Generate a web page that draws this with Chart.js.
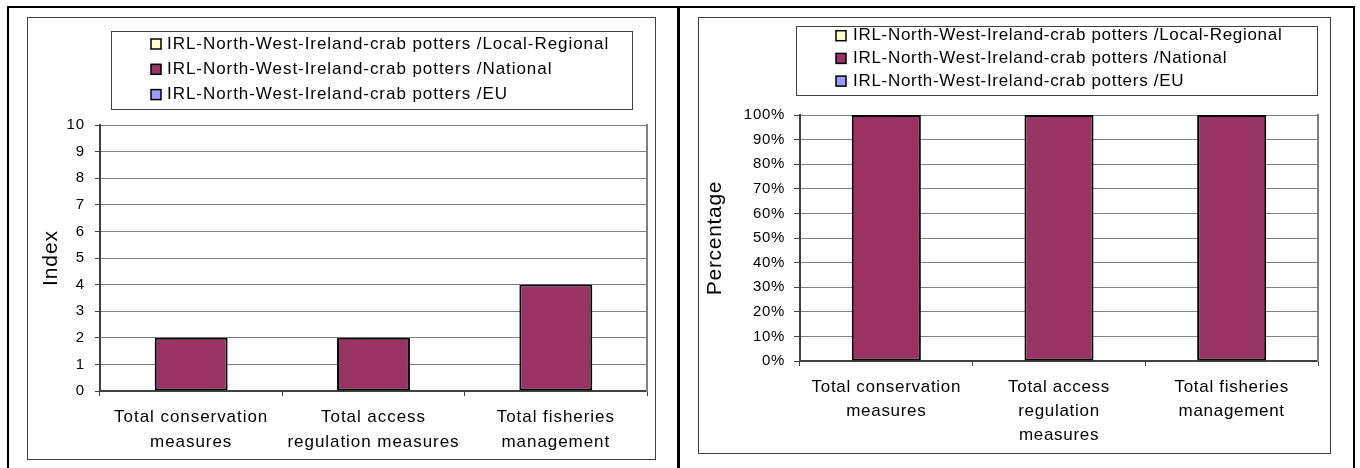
<!DOCTYPE html>
<html>
<head>
<meta charset="utf-8">
<script src="https://cdn.jsdelivr.net/npm/chart.js@4/dist/chart.umd.min.js"></script>
<style>
  body { margin: 0; width: 1360px; height: 468px; overflow: hidden; position: relative; background: #fff; }
  #frame { position: absolute; left: 7px; top: 6px; width: 1344px; height: 480px; border: 2px solid #000; border-bottom: none; }
  #divider { position: absolute; left: 677px; top: 6px; width: 3px; height: 480px; background: #000; }
  .box { position: absolute; border: 1px solid #404040; box-sizing: border-box; background: #fff; }
  #boxL { left: 27px; top: 17px; width: 629px; height: 443px; }
  #boxR { left: 698px; top: 17px; width: 633px; height: 437px; }
  canvas { position: absolute; left: 0; top: 0; }
</style>
</head>
<body>
<div id="frame"></div>
<div id="divider"></div>
<div class="box" id="boxL"><canvas id="indexChart" width="627" height="441"></canvas></div>
<div class="box" id="boxR"><canvas id="pctChart" width="631" height="435"></canvas></div>
<script>
// categories (line breaks as in the picture)
const categoriesIndex = [['Total conservation', 'measures'], ['Total access', 'regulation measures'], ['Total fisheries', 'management']];
const categoriesPct = [['Total conservation', 'measures'], ['Total access', 'regulation', 'measures'], ['Total fisheries', 'management']];

const seriesNames = [
  'IRL-North-West-Ireland-crab potters /Local-Regional',
  'IRL-North-West-Ireland-crab potters /National',
  'IRL-North-West-Ireland-crab potters /EU'
];
const seriesColors = ['#FFFFCC', '#993366', '#9999FF'];

// left chart: index
const indexLocal = [0, 0, 0];
const indexNational = [2, 2, 4];
const indexEU = [0, 0, 0];

// right chart: percentage
const pctLocal = [0, 0, 0];
const pctNational = [100, 100, 100];
const pctEU = [0, 0, 0];

Chart.defaults.font.family = '"Liberation Sans", Arial, sans-serif';
Chart.defaults.color = '#000';

// legend drawn in a framed box, like the Excel original
const boxLegend = {
  id: 'boxLegend',
  beforeDraw(chart, args, o) {
    chart.ctx.letterSpacing = o.spacing + 'px';
  },
  afterDraw(chart, args, o) {
    const ctx = chart.ctx;
    ctx.save();
    ctx.letterSpacing = o.spacing + 'px';
    ctx.strokeStyle = '#404040';
    ctx.lineWidth = 1;
    ctx.strokeRect(o.x + 0.5, o.y + 0.5, o.w, o.h);
    ctx.font = o.fontSize + 'px "Liberation Sans", Arial, sans-serif';
    ctx.textBaseline = 'middle';
    chart.data.datasets.forEach((ds, i) => {
      const cy = o.rowY + i * o.rowGap;
      ctx.fillStyle = ds.backgroundColor;
      ctx.fillRect(o.markX, cy - o.mark / 2, o.mark, o.mark);
      ctx.strokeStyle = '#000';
      ctx.lineWidth = 1.5;
      ctx.strokeRect(o.markX, cy - o.mark / 2, o.mark, o.mark);
      ctx.fillStyle = '#000';
      ctx.fillText(ds.label, o.textX, cy);
    });
    ctx.restore();
  }
};

function makeDatasets(values) {
  return values.map((v, i) => ({
    label: seriesNames[i],
    data: v,
    backgroundColor: seriesColors[i],
    borderColor: '#000',
    borderWidth: 2,
    borderSkipped: false,
    inflateAmount: 0,
    categoryPercentage: 1,
    barPercentage: 0.4
  }));
}

function makeChart(id, labels, values, s) {
  return new Chart(document.getElementById(id), {
    type: 'bar',
    data: { labels, datasets: makeDatasets(values) },
    options: {
      responsive: false,
      animation: false,
      devicePixelRatio: 1,
      layout: { padding: s.padding },
      plugins: { legend: { display: false }, tooltip: { enabled: false }, boxLegend: s.legend },
      scales: {
        x: {
          stacked: true,
          afterFit: sc => { sc.height = s.xHeight; },
          ticks: { padding: s.xPad, maxRotation: 0, autoSkip: false, color: '#000',
                   font: { size: 17, lineHeight: s.xLine / 17 } },
          grid: { drawOnChartArea: false, tickLength: 5, color: '#404040' },
          border: { color: '#404040', width: 2 }
        },
        y: {
          stacked: true,
          min: 0,
          max: s.max,
          afterFit: sc => { sc.width = s.yWidth; },
          ticks: { stepSize: s.step, padding: s.yPad, color: '#000', font: { size: 15 }, callback: s.fmt },
          grid: { color: '#808080', tickColor: '#404040', tickLength: s.yTick, lineWidth: 1 },
          border: { color: '#404040', width: 2 },
          title: { display: true, text: s.title, color: '#000', font: { size: 21 }, padding: 2 }
        },
        y2: {
          position: 'right',
          afterFit: sc => { sc.width = 0; },
          ticks: { display: false },
          grid: { display: false, drawTicks: false },
          border: { display: true, color: '#808080', width: 2 }
        }
      }
    },
    plugins: [boxLegend]
  });
}

makeChart('indexChart', categoriesIndex, [indexLocal, indexNational, indexEU], {
  padding: { left: 9, right: 8, top: 107, bottom: 4 },
  xHeight: 64, xPad: 8.5, xLine: 25,
  yWidth: 63, yPad: 10, yTick: 5,
  max: 10, step: 1, title: 'Index', fmt: v => v,
  legend: { x: 83, y: 13, w: 521, h: 78, rowY: 26, rowGap: 25.3, markX: 123, mark: 10, textX: 139, fontSize: 17, spacing: 0.95 }
});

makeChart('pctChart', categoriesPct, [pctLocal, pctNational, pctEU], {
  padding: { left: 2, right: 12, top: 97, bottom: 4 },
  xHeight: 88, xPad: 9, xLine: 24,
  yWidth: 99, yPad: 9, yTick: 6,
  max: 100, step: 10, title: 'Percentage', fmt: v => v + '%',
  legend: { x: 97, y: 8, w: 521, h: 69, rowY: 17.7, rowGap: 22.7, markX: 137, mark: 10, textX: 154, fontSize: 17, spacing: 0.7 }
});
</script>
</body>
</html>
